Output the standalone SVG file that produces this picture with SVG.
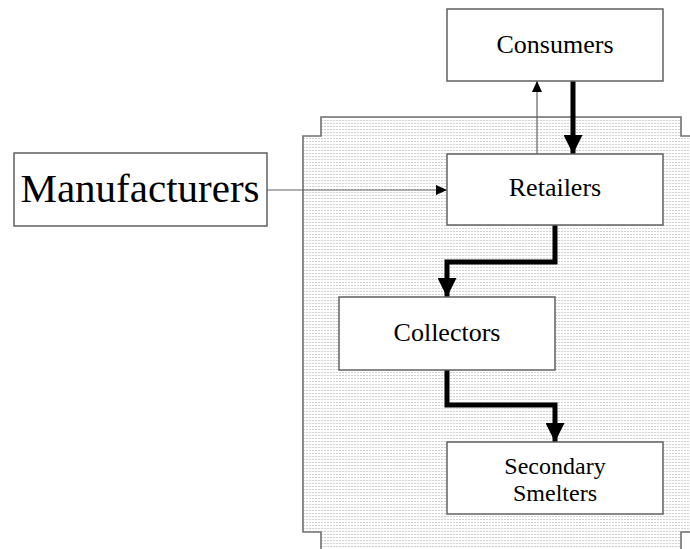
<svg xmlns="http://www.w3.org/2000/svg" width="690" height="549" viewBox="0 0 690 549">
<defs>
<pattern id="dots" x="0" y="0" width="3" height="3" patternUnits="userSpaceOnUse">
<rect width="3" height="3" fill="#ffffff"/>
<rect x="0" y="0" width="2" height="1" fill="#d2d2d2"/>
</pattern>
<marker id="thin" markerWidth="11" markerHeight="10" refX="11" refY="5" orient="auto" markerUnits="userSpaceOnUse">
<path d="M0,0 L11,5 L0,10 Z" fill="#000"/>
</marker>
<marker id="thick" markerWidth="19" markerHeight="19" refX="19" refY="9.5" orient="auto" markerUnits="userSpaceOnUse">
<path d="M0,0 L19,9.5 L0,19 Z" fill="#000"/>
</marker>
</defs>
<style>
.box{fill:#fff;stroke:#606060;stroke-width:1.5}
.lbl{font-family:"Liberation Serif","Times New Roman",serif;fill:#000;text-anchor:middle}
.thin{fill:none;stroke:#606060;stroke-width:1.2}
.thick{fill:none;stroke:#000;stroke-width:5}
</style>
<rect width="690" height="549" fill="#fff"/>
<path id="region" d="M321,117 H681 V136 H700 V532 H681 V560 H321 V532 H303 V136 H321 Z" fill="url(#dots)" stroke="#707070" stroke-width="1.6"/>
<g id="connectors">
<path class="thin" d="M267,190 H447" marker-end="url(#thin)"/>
<path class="thin" d="M537,154 V81" marker-end="url(#thin)"/>
<path class="thick" d="M573,81 V154" marker-end="url(#thick)"/>
<path class="thick" d="M555,225 V262 H447 V297" marker-end="url(#thick)"/>
<path class="thick" d="M447,370 V405 H555 V442" marker-end="url(#thick)"/>
</g>
<g id="consumers">
<rect class="box" x="447" y="9" width="216" height="72"/>
<text class="lbl" x="555" y="53" font-size="26">Consumers</text>
</g>
<g id="manufacturers">
<rect class="box" x="14" y="153" width="253" height="73"/>
<text class="lbl" x="140" y="202" font-size="41">Manufacturers</text>
</g>
<g id="retailers">
<rect class="box" x="447" y="154" width="216" height="71"/>
<text class="lbl" x="555" y="196" font-size="26">Retailers</text>
</g>
<g id="collectors">
<rect class="box" x="339" y="297" width="216" height="73"/>
<text class="lbl" x="447" y="341" font-size="26">Collectors</text>
</g>
<g id="smelters">
<rect class="box" x="447" y="442" width="216" height="72"/>
<text class="lbl" x="555" y="474" font-size="24">Secondary</text>
<text class="lbl" x="555" y="501" font-size="24">Smelters</text>
</g>
</svg>
